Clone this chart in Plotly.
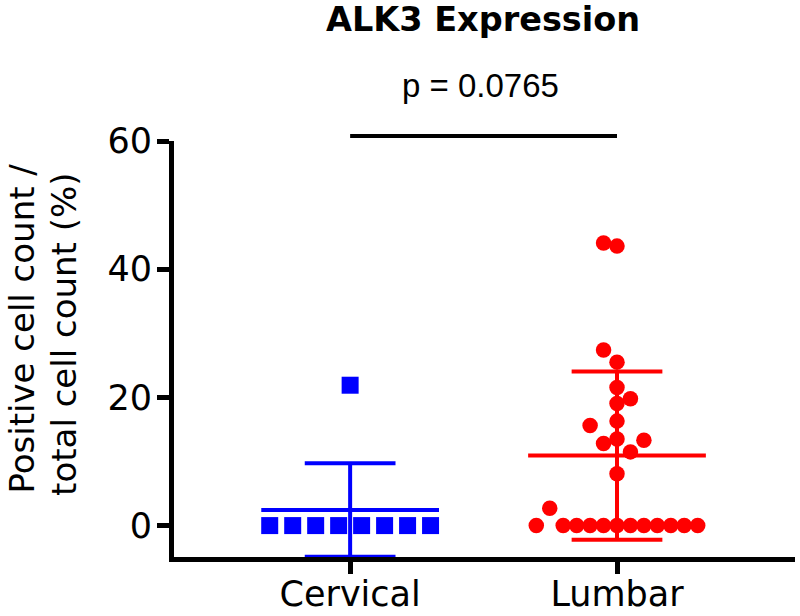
import numpy as np
import plotly.graph_objects as go

# ---- data ----
categories = ["Cervical", "Lumbar"]
cervical_values = [0, 0, 0, 0, 0, 0, 0, 0, 21.9]
lumbar_values = [44.1, 43.6, 27.4, 25.5, 21.55, 19.8, 19.05, 16.3, 15.6, 12.8,
                 13.5, 13.3, 11.5, 8.1, 2.7,
                 0, 0, 0, 0, 0, 0, 0, 0, 0, 0, 0, 0]
y_ticks = [0, 20, 40, 60]
title_text = "ALK3 Expression"
p_text = "p = 0.0765"
y_title_lines = ["Positive cell count /", "total cell count (%)"]

# ---- layout / swarm placement (style) ----
cervical_slots = [-3.5, -2.5, -1.5, -0.5, 0.5, 1.5, 2.5, 3.5, 0]
lumbar_slots = [-1, 0, -1, 0, 0, 1, 0, 0, -2, -1, 0, 2, 1, 0, -5,
                -6, -4, -3, -2, -1, 0, 1, 2, 3, 4, 5, 6]
cervical_step = 0.0861
lumbar_step = 0.0504
mean_half = 0.333
cap_half = 0.17

BLUE = "#0000FF"
RED = "#FF0000"
AXFONT = "DejaVu Sans, Verdana, sans-serif"
PFONT = "Liberation Sans, Arial, sans-serif"

fig = go.Figure()

groups = [
    (0, cervical_values, cervical_slots, cervical_step, BLUE, "square", 17),
    (1, lumbar_values, lumbar_slots, lumbar_step, RED, "circle", 15.5),
]

for pos, vals, slots, step, color, symbol, msize in groups:
    xs = [pos + s * step for s in slots]
    fig.add_trace(go.Scatter(
        x=xs, y=vals, mode="markers",
        marker=dict(color=color, symbol=symbol, size=msize, line=dict(width=0)),
        showlegend=False, hoverinfo="y", cliponaxis=False,
    ))

for pos, vals, slots, step, color, symbol, msize in groups:
    arr = np.array(vals, dtype=float)
    m = arr.mean()
    sd = arr.std(ddof=1)
    ex = [pos - mean_half, pos + mean_half, None,
          pos, pos, None,
          pos - cap_half, pos + cap_half, None,
          pos - cap_half, pos + cap_half]
    ey = [m, m, None,
          m - sd, m + sd, None,
          m + sd, m + sd, None,
          m - sd, m - sd]
    fig.add_trace(go.Scatter(
        x=ex, y=ey, mode="lines",
        line=dict(color=color, width=4),
        showlegend=False, hoverinfo="skip",
    ))

# significance bracket
fig.add_shape(type="line", xref="x", yref="paper",
              x0=0, x1=1, y0=1.012, y1=1.012,
              line=dict(color="black", width=4))

fig.add_annotation(text=p_text, xref="x", yref="paper", x=0.487, y=1.134,
                   xanchor="center", yanchor="middle", showarrow=False,
                   font=dict(family=PFONT, size=33, color="black"))

fig.add_annotation(text="<b>" + title_text + "</b>", xref="paper", yref="paper",
                   x=0.4976, y=1.2909, xanchor="center", yanchor="middle",
                   showarrow=False,
                   font=dict(family=AXFONT, size=33.5, color="black"))

fig.add_annotation(text=y_title_lines[0], xref="paper", yref="paper",
                   x=-0.2448, y=0.549, xanchor="center", yanchor="middle",
                   textangle=-90, showarrow=False,
                   font=dict(family=AXFONT, size=34, color="black"))
fig.add_annotation(text=y_title_lines[1], xref="paper", yref="paper",
                   x=-0.1771, y=0.534, xanchor="center", yanchor="middle",
                   textangle=-90, showarrow=False,
                   font=dict(family=AXFONT, size=34, color="black"))

fig.update_layout(
    width=800, height=616,
    margin=dict(l=174, r=5, t=141, b=59, autoexpand=False),
    paper_bgcolor="white", plot_bgcolor="white",
    font=dict(family=AXFONT, color="black"),
    xaxis=dict(
        range=[-0.66, 1.667], automargin=False,
        tickmode="array", tickvals=[0, 1], ticktext=categories,
        showline=True, linecolor="black", linewidth=5,
        ticks="outside", ticklen=12, tickwidth=5, tickcolor="black",
        ticklabelstandoff=-10,
        showgrid=False, zeroline=False, layer="below traces",
        tickfont=dict(family=AXFONT, size=35, color="black"),
    ),
    yaxis=dict(
        range=[-4.9, 60], automargin=False,
        tickmode="array", tickvals=y_ticks,
        showline=True, linecolor="black", linewidth=5,
        ticks="outside", ticklen=12, tickwidth=5, tickcolor="black",
        ticklabelstandoff=-2,
        showgrid=False, zeroline=False, layer="below traces",
        tickfont=dict(family=AXFONT, size=35, color="black"),
    ),
)

fig.write_html(
    "out.html",
    config={"displayModeBar": False},
    post_script="document.body.style.margin='0px';document.body.style.padding='0px';",
)
